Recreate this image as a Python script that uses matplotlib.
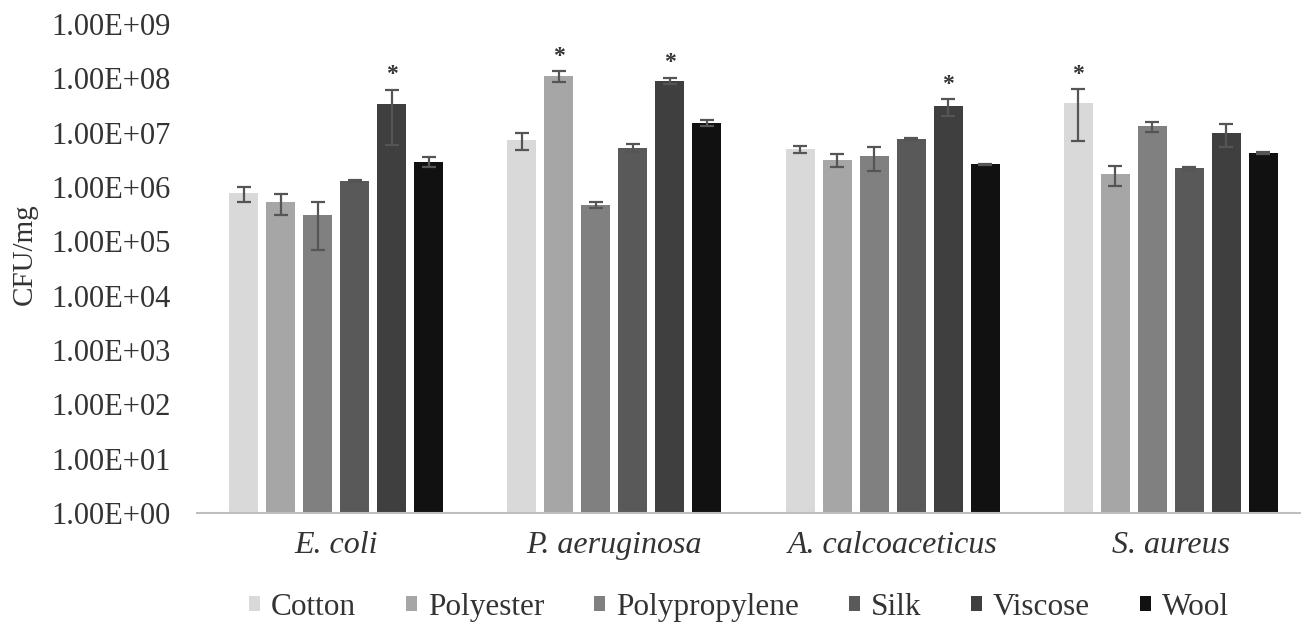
import numpy as np
import matplotlib
matplotlib.use('Agg')
import matplotlib.pyplot as plt
from matplotlib.ticker import FixedLocator, FuncFormatter

plt.rcParams['font.family'] = ['Liberation Serif', 'DejaVu Serif']

# 数据：各菌种在不同纤维上的 CFU/mg
bacteria = ['E. coli', 'P. aeruginosa', 'A. calcoaceticus', 'S. aureus']
fabrics = ['Cotton', 'Polyester', 'Polypropylene', 'Silk', 'Viscose', 'Wool']

cotton = [7.8e5, 7.4e6, 5.0e6, 3.5e7]
polyester = [5.3e5, 1.12e8, 3.2e6, 1.75e6]
polypropylene = [3.0e5, 4.7e5, 3.7e6, 1.3e7]
silk = [1.3e6, 5.3e6, 7.7e6, 2.2e6]
viscose = [3.4e7, 9.1e7, 3.1e7, 1.0e7]
wool = [2.9e6, 1.5e7, 2.6e6, 4.3e6]

cotton_err = [2.4e5, 2.5e6, 7e5, 2.8e7]
polyester_err = [2.2e5, 2.5e7, 9e5, 7e5]
polypropylene_err = [2.3e5, 6e4, 1.7e6, 2.5e6]
silk_err = [5e4, 8e5, 4e5, 1e5]
viscose_err = [2.8e7, 1.2e7, 1.1e7, 4.5e6]
wool_err = [6e5, 2e6, 1e5, 2e5]

# 显著性标记 (*)
cotton_sig = [False, False, False, True]
polyester_sig = [False, True, False, False]
polypropylene_sig = [False, False, False, False]
silk_sig = [False, False, False, False]
viscose_sig = [True, True, True, False]
wool_sig = [False, False, False, False]

values = [cotton, polyester, polypropylene, silk, viscose, wool]
errors = [cotton_err, polyester_err, polypropylene_err, silk_err, viscose_err, wool_err]
sigs = [cotton_sig, polyester_sig, polypropylene_sig, silk_sig, viscose_sig, wool_sig]
colors = ['#d9d9d9', '#a6a6a6', '#808080', '#595959', '#3f3f3f', '#111111']

fig = plt.figure(figsize=(13.01, 6.22), dpi=100)
ax = fig.add_axes([0.1514, 0.1752, 0.8555, 0.7862])

x = np.arange(len(bacteria))
step = 0.133
width = 0.104
for i, (name, vals, errs, sg, c) in enumerate(zip(fabrics, values, errors, sigs, colors)):
    pos = x + (i - 2.5) * step
    ax.bar(pos, vals, width, color=c, label=name, zorder=2)
    ax.errorbar(pos, vals, yerr=errs, fmt='none', ecolor='#555555',
                elinewidth=1.6, capsize=5, capthick=1.6, zorder=3)
    for p, v, e, s in zip(pos, vals, errs, sg):
        if s:
            ax.annotate('*', xy=(p, v + e), xytext=(0, 3), textcoords='offset points',
                        ha='center', va='bottom', fontsize=17, fontweight='bold',
                        color='#333333')

ax.set_yscale('log')
ax.set_ylim(1, 1e9)
ax.set_xlim(-0.5, 3.5)
ax.yaxis.set_major_locator(FixedLocator([10.0 ** k for k in range(10)]))
ax.yaxis.set_minor_locator(FixedLocator([]))
ax.yaxis.set_major_formatter(FuncFormatter(lambda v, p: '1.00E+%02d' % int(round(np.log10(v)))))
ax.tick_params(axis='y', length=0, labelsize=22, pad=19, labelcolor='#333333')
ax.tick_params(axis='x', length=0, labelsize=23, pad=13, labelcolor='#333333')
ax.set_xticks(x)
ax.set_xticklabels(bacteria, style='italic')

for s in ['top', 'right', 'left']:
    ax.spines[s].set_visible(False)
ax.spines['bottom'].set_color('#bfbfbf')
ax.spines['bottom'].set_linewidth(1.5)

ax.set_ylabel('CFU/mg', fontsize=21, color='#333333')
ax.yaxis.set_label_coords(-0.143, 0.53)

fig.legend(loc='center', bbox_to_anchor=(0.568, 0.024), ncol=6, frameon=False,
           fontsize=22.5, handlelength=0.35, handleheight=0.35, handletextpad=0.35,
           columnspacing=1.6, labelcolor='#333333')

fig.savefig('out.png', dpi=100)
